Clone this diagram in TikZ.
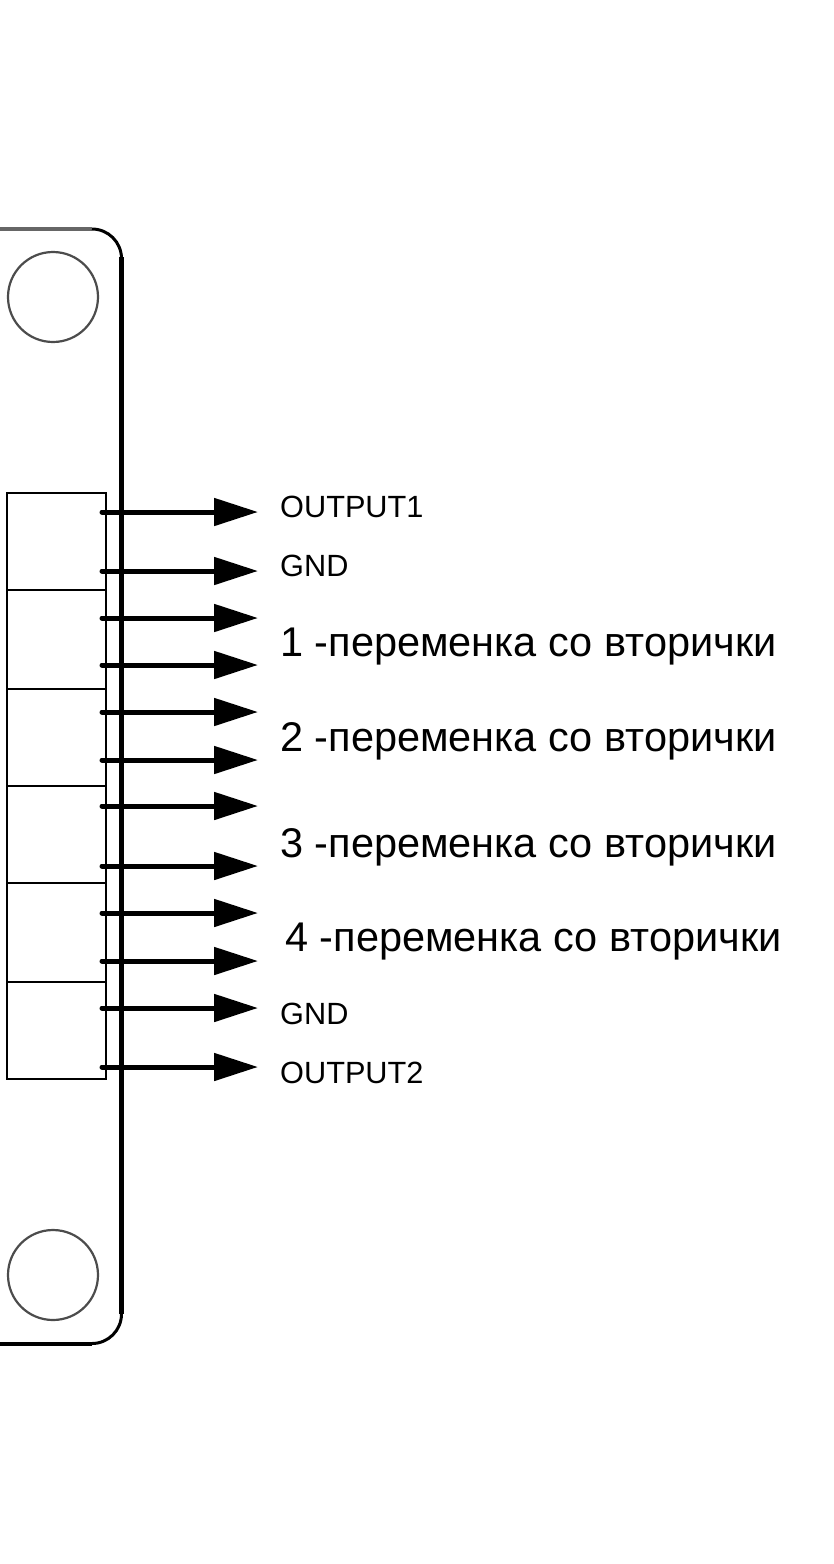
\documentclass[tikz,border=0pt]{standalone}
\usepackage{fontspec}
\setmainfont{Liberation Sans}
\usetikzlibrary{arrows.meta}
\tikzset{
  pinarrow/.style={line width=5pt,line cap=round,-{Triangle[length=44pt,width=27pt]}},
  cell/.style={draw=black,line width=2.6pt,minimum width=99pt,inner sep=0pt,outer sep=0pt,anchor=north west},
  hole/.style={draw=black!70,line width=2.2pt,circle,minimum size=90pt,inner sep=0pt},
  smalllabel/.style={anchor=base west,inner sep=0pt,font=\fontsize{30.7}{31}\selectfont},
  biglabel/.style={anchor=base west,inner sep=0pt,font=\fontsize{41.5}{42}\selectfont},
}
\begin{document}
\begin{tikzpicture}[x=1pt,y=-1pt]
\useasboundingbox (0,0) rectangle (834,1564);
\fill[white] (0,0) rectangle (834,1564);
% board outline
\draw[line width=3.4pt,black!60] (0,229) -- (92,229);
\draw[line width=3pt] (92,229) arc[start angle=-90,end angle=0,radius=29.5];
\draw[line width=5pt] (121.7,257) -- (121.7,1314);
\draw[line width=3pt] (121.5,1314) arc[start angle=0,end angle=90,radius=29.5];
\draw[line width=3.8pt] (0,1344) -- (92,1344);
% mounting holes
\node[hole] (holeA) at (53,297) {};
\node[hole] (holeB) at (53,1275) {};
% connector cells
\node[cell,minimum height=97pt] (c1) at (7,493) {};
\node[cell,minimum height=99pt] (c2) at (7,590) {};
\node[cell,minimum height=97pt] (c3) at (7,689) {};
\node[cell,minimum height=97pt] (c4) at (7,786) {};
\node[cell,minimum height=99pt] (c5) at (7,883) {};
\node[cell,minimum height=97pt] (c6) at (7,982) {};
% pins
\foreach \n/\y in {1/512,2/571,3/618,4/665,5/712,6/760,7/806,8/866,9/913,10/961,11/1008,12/1067}{
  \coordinate (s\n) at (102,\y);
  \coordinate (t\n) at (258,\y);
  \draw[pinarrow] (s\n) -- (t\n);
}
% labels
\node[smalllabel] (l1) at (280,517) {OUTPUT1};
\node[smalllabel] (l2) at (280,576) {GND};
\node[biglabel] (l3) at (280,656) {1 -переменка со вторички};
\node[biglabel] (l4) at (280,751) {2 -переменка со вторички};
\node[biglabel] (l5) at (280,857) {3 -переменка со вторички};
\node[biglabel] (l6) at (285,951) {4 -переменка со вторички};
\node[smalllabel] (l7) at (280,1024) {GND};
\node[smalllabel] (l8) at (280,1083) {OUTPUT2};
\end{tikzpicture}
\end{document}
